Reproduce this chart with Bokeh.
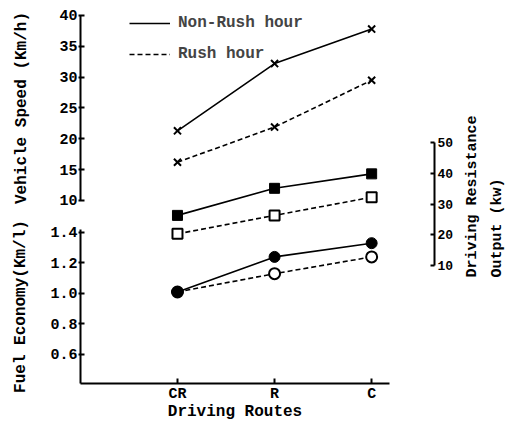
from bokeh.plotting import figure
from bokeh.models import (Range1d, LinearAxis, FixedTicker, Legend, LegendItem,
                          Label, PrintfTickFormatter)
from bokeh.embed import file_html
from bokeh.resources import INLINE

# ---------------- data ----------------
routes = ["CR", "R", "C"]
speed_nonrush = [21.3, 32.2, 37.8]
speed_rush = [16.2, 21.9, 29.5]
power_nonrush = [26.3, 35.1, 39.8]
power_rush = [20.3, 26.3, 32.2]
fuel_nonrush = [1.01, 1.24, 1.33]
fuel_rush = [1.01, 1.13, 1.24]
speed_ticks = [10, 15, 20, 25, 30, 35, 40]
fuel_ticks = [0.6, 0.8, 1.0, 1.2, 1.4]
power_ticks = [10, 20, 30, 40, 50]
series_labels = ["Non-Rush hour", "Rush hour"]

x = list(range(len(routes)))
FONT = "Liberation Mono"

# frame covers the whole canvas; axes are placed with fixed locations
p = figure(width=506, height=425, output_backend="svg", toolbar_location=None,
           x_range=Range1d(-1.823, 3.389), y_range=Range1d(-26.49, 42.43),
           min_border_left=0, min_border_right=0, min_border_top=0, min_border_bottom=0,
           x_axis_location=None, y_axis_location=None)
p.extra_y_ranges = {"fuel": Range1d(0.1344, 2.9213), "power": Range1d(-42.03, 96.18)}
p.xgrid.visible = False
p.ygrid.visible = False
p.outline_line_color = None
p.background_fill_color = "white"
p.border_fill_color = "white"

X_LEFT = -1.0      # left axis position (x units)
X_RIGHT = 2.647    # right axis position (x units)
Y_BOTTOM = -19.68  # x-axis position (speed units)


def style(ax, size="15px"):
    ax.axis_line_width = 2
    ax.axis_line_color = "black"
    ax.major_tick_line_width = 2
    ax.major_tick_line_color = "black"
    ax.minor_tick_line_color = None
    ax.major_label_text_font = FONT
    ax.major_label_text_font_style = "bold"
    ax.major_label_text_font_size = size
    ax.major_label_text_color = "black"
    ax.axis_label_text_font = FONT
    ax.axis_label_text_font_style = "bold"
    ax.axis_label_text_font_size = "16px"
    ax.axis_label_text_color = "black"


ax_speed = LinearAxis(ticker=FixedTicker(ticks=speed_ticks), bounds=(10, 40),
                      fixed_location=X_LEFT, axis_label="Vehicle Speed (Km/h)")
style(ax_speed)
ax_speed.major_tick_in = 4
ax_speed.major_tick_out = 2
ax_speed.major_label_standoff = 1
ax_speed.axis_label_standoff = 25
p.add_layout(ax_speed, "left")

ax_fuel = LinearAxis(y_range_name="fuel", ticker=FixedTicker(ticks=fuel_ticks),
                     bounds=(0.41, 1.42), fixed_location=X_LEFT,
                     formatter=PrintfTickFormatter(format="%.1f"),
                     axis_label="Fuel Economy(Km/l)")
style(ax_fuel)
ax_fuel.major_tick_in = 4
ax_fuel.major_tick_out = 2
ax_fuel.major_label_standoff = 1
ax_fuel.axis_label_standoff = 17
p.add_layout(ax_fuel, "left")

ax_power = LinearAxis(y_range_name="power", ticker=FixedTicker(ticks=power_ticks),
                      bounds=(10, 50), fixed_location=X_RIGHT)
style(ax_power, "13px")
ax_power.major_tick_in = 4
ax_power.major_tick_out = 0
ax_power.major_label_standoff = 3
p.add_layout(ax_power, "right")

ax_x = LinearAxis(ticker=FixedTicker(ticks=x), bounds=(X_LEFT, 2.18),
                  fixed_location=Y_BOTTOM,
                  major_label_overrides={i: r for i, r in enumerate(routes)},
                  axis_label="Driving Routes")
style(ax_x)
ax_x.major_tick_in = 5
ax_x.major_tick_out = 0
ax_x.major_label_standoff = 2
ax_x.axis_label_standoff = -3
p.add_layout(ax_x, "below")

solid = dict(line_color="black", line_width=1.6)
dashed = dict(line_color="black", line_width=1.6, line_dash="5 3")

# speed
l1 = p.line(x, speed_nonrush, **solid)
l2 = p.line(x, speed_rush, **dashed)
p.scatter(x, speed_nonrush, marker="x", size=10, line_width=2, line_color="black")
p.scatter(x, speed_rush, marker="x", size=10, line_width=2, line_color="black")

# driving resistance output
p.line(x, power_nonrush, y_range_name="power", **solid)
p.line(x, power_rush, y_range_name="power", **dashed)
p.scatter(x, power_nonrush, y_range_name="power", marker="square", size=10,
          fill_color="black", line_color="black")
p.scatter(x, power_rush, y_range_name="power", marker="square", size=10,
          fill_color="white", line_color="black", line_width=2)

# fuel economy
p.line(x, fuel_nonrush, y_range_name="fuel", **solid)
p.line(x, fuel_rush, y_range_name="fuel", **dashed)
p.scatter(x, fuel_rush, y_range_name="fuel", marker="circle", size=11,
          fill_color="white", line_color="black", line_width=2)
p.scatter(x, fuel_nonrush, y_range_name="fuel", marker="circle", size=11,
          fill_color="black", line_color="black")

legend = Legend(items=[LegendItem(label=series_labels[0], renderers=[l1]),
                       LegendItem(label=series_labels[1], renderers=[l2])],
                location=(129, 361), glyph_width=41, glyph_height=20, label_height=20,
                label_standoff=8, spacing=11, padding=0, margin=0,
                border_line_color=None, background_fill_alpha=0,
                label_text_font=FONT, label_text_font_style="bold",
                label_text_font_size="16px")
p.add_layout(legend)

for txt, sx in [("Driving Resistance", 472), ("Output (kw)", 497)]:
    p.add_layout(Label(x=sx, y=148, x_units="screen", y_units="screen", text=txt,
                       angle=90, angle_units="deg", text_align="left",
                       text_baseline="middle", text_font=FONT, text_font_style="bold",
                       text_font_size="15px", text_color="black"))

open("out.html", "w").write(file_html(p, INLINE))
